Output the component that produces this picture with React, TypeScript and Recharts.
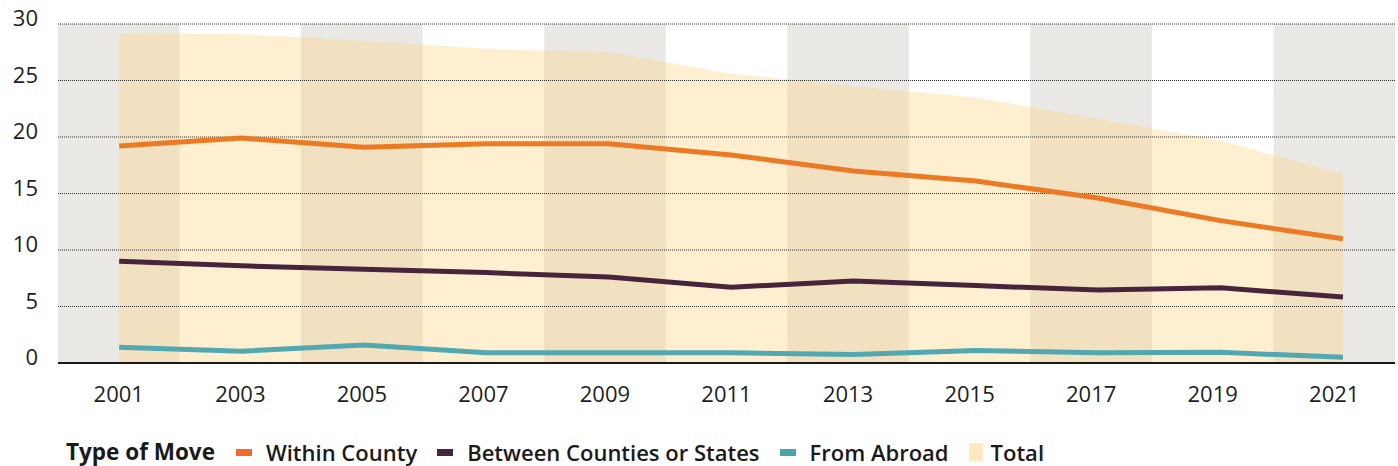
import React from 'react';
import {
  ComposedChart,
  Line,
  Area,
  XAxis,
  YAxis,
  ReferenceArea,
  ReferenceLine,
  Legend,
} from 'recharts';

const years = [2001, 2003, 2005, 2007, 2009, 2011, 2013, 2015, 2017, 2019, 2021];
const yearLabels = ['2001', '2003', '2005', '2007', '2009', '2011', '2013', '2015', '2017', '2019', '2021'];
const withinCounty = [19.2, 19.9, 19.1, 19.4, 19.4, 18.4, 17.0, 16.1, 14.6, 12.6, 11.0];
const betweenCounties = [9.0, 8.6, 8.3, 8.0, 7.6, 6.7, 7.25, 6.85, 6.45, 6.65, 5.85];
const fromAbroad = [1.4, 1.05, 1.6, 0.9, 0.9, 0.9, 0.75, 1.1, 0.9, 0.95, 0.5];
const total = [29.2, 29.1, 28.5, 27.8, 27.5, 25.6, 24.5, 23.5, 21.6, 19.7, 16.7];
const yTicks = [0, 5, 10, 15, 20, 25, 30];
const legendTitle = 'Type of Move';
const seriesNames = ['Within County', 'Between Counties or States', 'From Abroad', 'Total'];

const COLORS = {
  within: '#ec7a24',
  between: '#46253c',
  abroad: '#51a8b0',
  total: '#fcd68a',
  band: '#e9e8e4',
  grid: '#2a2a2a',
};
const LEGEND_COLORS = ['#f26a2b', '#45253b', '#4aa4ad', '#fde8bf'];

const data = years.map((y, i) => ({
  year: y,
  within: withinCounty[i],
  between: betweenCounties[i],
  abroad: fromAbroad[i],
  total: total[i],
}));

// x domain (year units); the chart is split into one band per category
const X_MIN = 2000;
const X_MAX = 2021.85;
const BAND = (X_MAX - X_MIN) / years.length;
const bandEdges = years.map((_, k) => X_MIN + k * BAND);
const bandCenters = years.map((_, k) => X_MIN + (k + 0.5) * BAND);

const FONT = '"Open Sans", sans-serif';

const XTick = (props: any) => {
  const { x, y, payload } = props;
  const idx = Math.round((payload.value - X_MIN) / BAND - 0.5);
  return (
    <text x={x} y={y + 39} textAnchor="middle" fontFamily={FONT} fontSize={22} fill="#1e1e1e">
      {yearLabels[idx]}
    </text>
  );
};

const YTick = (props: any) => {
  const { y, payload } = props;
  return (
    <text x={38} y={y + 2} textAnchor="end" fontFamily={FONT} fontSize={22} fill="#1e1e1e">
      {payload.value}
    </text>
  );
};

const LegendContent = () => {
  const items = seriesNames.map((name, i) => ({ name, color: LEGEND_COLORS[i], tall: i === 3 }));
  return (
    <div
      style={{
        display: 'flex',
        alignItems: 'center',
        fontFamily: FONT,
        fontSize: 22,
        fontWeight: 700,
        color: '#1a1a1a',
        paddingLeft: 66,
        whiteSpace: 'nowrap',
        lineHeight: '26px',
      }}
    >
      <span style={{ marginRight: 21, fontSize: 22.5 }}>{legendTitle}</span>
      {items.map((it) => (
        <span key={it.name} style={{ display: 'flex', alignItems: 'center', marginRight: 20 }}>
          <span
            style={{
              display: 'inline-block',
              width: it.tall ? 14 : 16,
              height: it.tall ? 18 : 7,
              background: it.color,
              marginRight: it.tall ? 8 : 14,
            }}
          />
          <span style={{ fontWeight: 600 }}>{it.name}</span>
        </span>
      ))}
    </div>
  );
};

export default function App() {
  return (
    <div style={{ position: 'absolute', left: 0, top: 0, width: 1398, height: 466, background: '#fff' }}>
      <ComposedChart
        width={1398}
        height={466}
        data={data}
        margin={{ top: 24, right: 3, bottom: 43, left: 0 }}
      >
        <XAxis
          type="number"
          dataKey="year"
          domain={[X_MIN, X_MAX]}
          allowDataOverflow
          ticks={bandCenters}
          interval={0}
          tickLine={false}
          tickSize={0}
          tickMargin={0}
          height={60}
          axisLine={{ stroke: '#1a1a1a', strokeWidth: 1.8 }}
          tick={<XTick />}
        />
        <YAxis
          type="number"
          domain={[0, 30]}
          ticks={yTicks}
          width={58}
          axisLine={false}
          tickLine={false}
          tick={<YTick />}
          interval={0}
        />
        {bandEdges
          .filter((_, k) => k % 2 === 0)
          .map((x1) => (
            <ReferenceArea
              key={x1}
              x1={x1}
              x2={x1 + BAND}
              y1={0}
              y2={30}
              fill={COLORS.band}
              fillOpacity={1}
              stroke="none"
            />
          ))}
        <Area
          type="linear"
          dataKey="total"
          fill={COLORS.total}
          fillOpacity={0.4}
          stroke="none"
          dot={false}
          activeDot={false}
          isAnimationActive={false}
        />
        {yTicks
          .filter((t) => t > 0)
          .map((t) => (
            <ReferenceLine key={t} y={t} stroke={COLORS.grid} strokeWidth={1} strokeDasharray="1 1" />
          ))}
        <Line
          type="linear"
          dataKey="within"
          stroke={COLORS.within}
          strokeWidth={5}
          dot={false}
          activeDot={false}
          isAnimationActive={false}
        />
        <Line
          type="linear"
          dataKey="between"
          stroke={COLORS.between}
          strokeWidth={5}
          dot={false}
          activeDot={false}
          isAnimationActive={false}
        />
        <Line
          type="linear"
          dataKey="abroad"
          stroke={COLORS.abroad}
          strokeWidth={5}
          dot={false}
          activeDot={false}
          isAnimationActive={false}
        />
        <Legend
          verticalAlign="middle"
          align="center"
          layout="horizontal"
          wrapperStyle={{ top: 439, left: 0, width: 1398 }}
          content={<LegendContent />}
        />
      </ComposedChart>
    </div>
  );
}
